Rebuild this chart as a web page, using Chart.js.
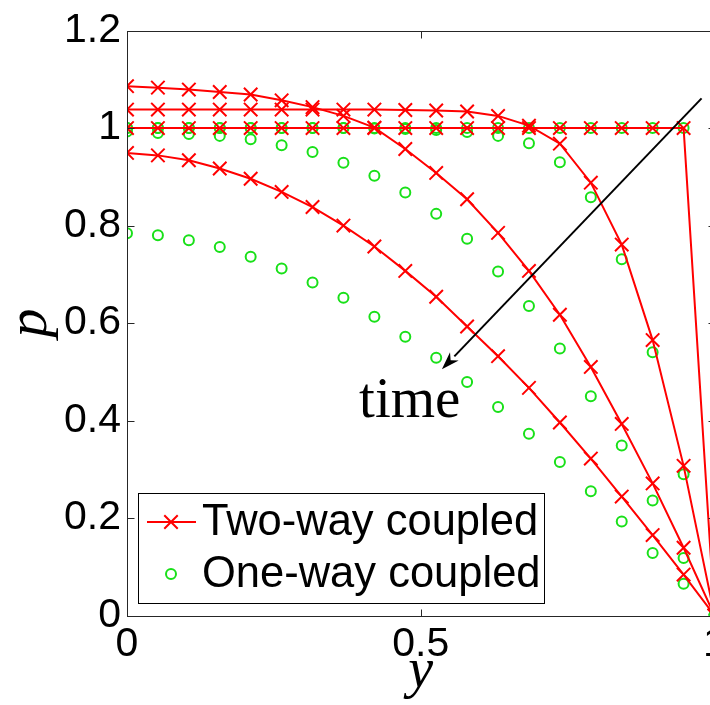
<!DOCTYPE html>
<html>
<head>
<meta charset="utf-8">
<script src="https://cdn.jsdelivr.net/npm/chart.js@4.4.1/dist/chart.umd.min.js"></script>
<style>
  html, body { margin: 0; padding: 0; background: #fff; overflow: hidden; }
  #wrap { width: 710px; height: 705px; overflow: hidden; }
</style>
</head>
<body>
<div id="wrap"><canvas id="chart" width="740" height="705"></canvas></div>
<script>
// positions across the channel (x axis, "y")
var yPos = [0, 0.0526, 0.1053, 0.1579, 0.2105, 0.2632, 0.3158, 0.3684, 0.4211, 0.4737,
            0.5263, 0.5789, 0.6316, 0.6842, 0.7368, 0.7895, 0.8421, 0.8947, 0.9474, 1];

// two-way coupled, four instants (earliest first)
var twoWayT0 = [1, 1, 1, 1, 1, 1, 1, 1, 1, 1, 1, 1, 1, 1, 1, 1, 1, 1, 1, 0];
var twoWayT1 = [1.038, 1.038, 1.038, 1.038, 1.038, 1.038, 1.038, 1.038, 1.038, 1.037,
                1.036, 1.034, 1.025, 1.005, 0.968, 0.888, 0.761, 0.565, 0.307, 0];
var twoWayT2 = [1.086, 1.083, 1.079, 1.074, 1.069, 1.057, 1.043, 1.025, 1.001, 0.957,
                0.908, 0.854, 0.785, 0.707, 0.617, 0.510, 0.393, 0.271, 0.139, 0];
var twoWayT3 = [0.949, 0.944, 0.934, 0.917, 0.896, 0.869, 0.838, 0.800, 0.757, 0.707,
                0.654, 0.593, 0.532, 0.467, 0.396, 0.322, 0.244, 0.165, 0.084, 0];

// one-way coupled, same instants
var oneWayT0 = [1, 1, 1, 1, 1, 1, 1, 1, 1, 1, 1, 1, 1, 1, 1, 1, 1, 1, 1, 0];
var oneWayT1 = [1, 1, 1, 1, 1, 1, 1, 1, 0.999, 0.998,
                0.996, 0.992, 0.984, 0.969, 0.930, 0.858, 0.731, 0.540, 0.290, 0];
var oneWayT2 = [0.993, 0.990, 0.988, 0.984, 0.977, 0.965, 0.951, 0.929, 0.902, 0.868,
                0.824, 0.773, 0.706, 0.635, 0.548, 0.450, 0.349, 0.236, 0.118, 0];
var oneWayT3 = [0.784, 0.780, 0.770, 0.756, 0.736, 0.712, 0.683, 0.652, 0.613, 0.572,
                0.529, 0.479, 0.428, 0.373, 0.315, 0.255, 0.193, 0.128, 0.065, 0];

var xTicks = [0, 0.5, 1];
var yTicks = [0, 0.2, 0.4, 0.6, 0.8, 1, 1.2];
var legendLabels = ['Two-way coupled', 'One-way coupled'];

// time arrow and its label, in data units
var arrowFrom = {x: 0.978, y: 1.061};
var arrowTo = {x: 0.536, y: 0.505};
var timeLabel = {x: 0.395, y: 0.408, text: 'time'};

var RED = '#ff0000';
var GREEN = '#19e019';

function toPoints(vals) {
    return vals.map(function (v, i) { return {x: yPos[i], y: v}; });
}

function redSet(vals) {
    return {
        label: legendLabels[0],
        data: toPoints(vals),
        borderColor: RED,
        borderWidth: 2,
        pointStyle: 'crossRot',
        pointRadius: 9.5,
        pointBorderWidth: 2,
        pointBorderColor: RED,
        pointBackgroundColor: RED,
        tension: 0,
        fill: false
    };
}

function greenSet(vals) {
    return {
        label: legendLabels[1],
        data: toPoints(vals),
        showLine: false,
        pointStyle: 'circle',
        pointRadius: 5,
        pointBorderWidth: 2,
        pointBorderColor: GREEN,
        pointBackgroundColor: 'rgba(0,0,0,0)'
    };
}

var framePlugin = {
    id: 'frame',
    afterDraw: function (chart) {
        var ctx = chart.ctx, a = chart.chartArea;
        var xs = chart.scales.x, ys = chart.scales.y;
        var L = Math.round(a.left) + 0.5, R = Math.round(a.right) + 0.5;
        var T = Math.round(a.top) + 0.5, B = Math.round(a.bottom) + 0.5;
        ctx.save();
        ctx.strokeStyle = '#262626';
        ctx.lineWidth = 1;
        ctx.strokeRect(L, T, R - L, B - T);
        ctx.beginPath();
        xs.ticks.forEach(function (t) {
            var px = Math.round(xs.getPixelForValue(t.value)) + 0.5;
            ctx.moveTo(px, B); ctx.lineTo(px, B - 7);
            ctx.moveTo(px, T); ctx.lineTo(px, T + 7);
        });
        ys.ticks.forEach(function (t) {
            var py = Math.round(ys.getPixelForValue(t.value)) + 0.5;
            ctx.moveTo(L, py); ctx.lineTo(L + 7, py);
            ctx.moveTo(R, py); ctx.lineTo(R - 7, py);
        });
        ctx.stroke();

        // arrow
        var x1 = xs.getPixelForValue(arrowFrom.x), y1 = ys.getPixelForValue(arrowFrom.y);
        var x2 = xs.getPixelForValue(arrowTo.x), y2 = ys.getPixelForValue(arrowTo.y);
        var ang = Math.atan2(y2 - y1, x2 - x1);
        var hl = 18, hw = 6;
        var bx = x2 - hl * Math.cos(ang), by = y2 - hl * Math.sin(ang);
        ctx.strokeStyle = '#000';
        ctx.fillStyle = '#000';
        ctx.lineWidth = 2;
        ctx.beginPath();
        ctx.moveTo(x1, y1); ctx.lineTo(bx, by);
        ctx.stroke();
        ctx.beginPath();
        ctx.moveTo(x2, y2);
        ctx.lineTo(bx + hw * Math.sin(ang), by - hw * Math.cos(ang));
        ctx.lineTo(x2 - (hl * 0.7) * Math.cos(ang), y2 - (hl * 0.7) * Math.sin(ang));
        ctx.lineTo(bx - hw * Math.sin(ang), by + hw * Math.cos(ang));
        ctx.closePath();
        ctx.fill();

        // "time" label
        ctx.font = '57px "Liberation Serif", "DejaVu Serif", serif';
        ctx.textBaseline = 'alphabetic';
        ctx.textAlign = 'left';
        ctx.fillText(timeLabel.text, xs.getPixelForValue(timeLabel.x), ys.getPixelForValue(timeLabel.y));

        // legend box
        var lx = 138.5, ly = 493.5, lw = 406, lh = 110;
        ctx.fillStyle = '#fff';
        ctx.fillRect(lx, ly, lw, lh);
        ctx.strokeStyle = '#000';
        ctx.lineWidth = 1;
        ctx.strokeRect(lx, ly, lw, lh);
        var row1 = 522, row2 = 574, mx = 171;
        ctx.strokeStyle = RED;
        ctx.lineWidth = 2;
        ctx.beginPath();
        ctx.moveTo(147, row1); ctx.lineTo(196, row1);
        var d = 9.5 * Math.SQRT1_2;
        ctx.moveTo(mx - d, row1 - d); ctx.lineTo(mx + d, row1 + d);
        ctx.moveTo(mx - d, row1 + d); ctx.lineTo(mx + d, row1 - d);
        ctx.stroke();
        ctx.strokeStyle = GREEN;
        ctx.beginPath();
        ctx.arc(mx, row2, 5, 0, Math.PI * 2);
        ctx.stroke();
        ctx.fillStyle = '#000';
        ctx.font = '43.5px "Liberation Sans", Arial, sans-serif';
        ctx.textBaseline = 'middle';
        ctx.fillText(legendLabels[0], 202, row1 + 1);
        ctx.fillText(legendLabels[1], 202, row2 + 1);
        ctx.restore();
    }
};

var datasets = [
    redSet(twoWayT0), redSet(twoWayT1), redSet(twoWayT2), redSet(twoWayT3),
    greenSet(oneWayT0), greenSet(oneWayT1), greenSet(oneWayT2), greenSet(oneWayT3)
];

var tickFont = {family: '"Liberation Sans", Arial, sans-serif', size: 41};

var chart = new Chart(document.getElementById('chart').getContext('2d'), {
    type: 'line',
    data: {datasets: datasets},
    options: {
        responsive: false,
        animation: false,
        events: [],
        layout: {
            autoPadding: false,
            padding: {left: 0, top: 28, right: 25.5, bottom: 0}
        },
        plugins: {
            legend: {display: false},
            tooltip: {enabled: false}
        },
        scales: {
            x: {
                type: 'linear',
                min: 0,
                max: 1,
                afterBuildTicks: function (s) {
                    s.ticks = xTicks.map(function (v) { return {value: v}; });
                },
                afterFit: function (s) { s.height = 89.5; },
                grid: {display: false, drawTicks: false},
                border: {display: false},
                ticks: {
                    color: '#000',
                    font: tickFont,
                    padding: 5,
                    maxRotation: 0,
                    autoSkip: false,
                    callback: function (v) { return String(Math.round(v * 10) / 10); }
                },
                title: {
                    display: true,
                    text: 'y',
                    color: '#000',
                    font: {family: '"Liberation Serif", "DejaVu Serif", serif', size: 56, style: 'italic', lineHeight: 1},
                    padding: {top: 0, bottom: 5}
                }
            },
            y: {
                type: 'linear',
                min: 0,
                max: 1.2,
                afterBuildTicks: function (s) {
                    s.ticks = yTicks.map(function (v) { return {value: v}; });
                },
                afterFit: function (s) { s.width = 127; },
                grid: {display: false, drawTicks: false},
                border: {display: false},
                ticks: {
                    color: '#000',
                    font: tickFont,
                    padding: 6,
                    autoSkip: false,
                    callback: function (v) { return String(Math.round(v * 10) / 10); }
                },
                title: {
                    display: true,
                    text: 'p',
                    color: '#000',
                    font: {family: '"Liberation Serif", "DejaVu Serif", serif', size: 58, style: 'italic', lineHeight: 1},
                    padding: {top: 2, bottom: 0}
                }
            }
        }
    },
    plugins: [framePlugin]
});
</script>
</body>
</html>
